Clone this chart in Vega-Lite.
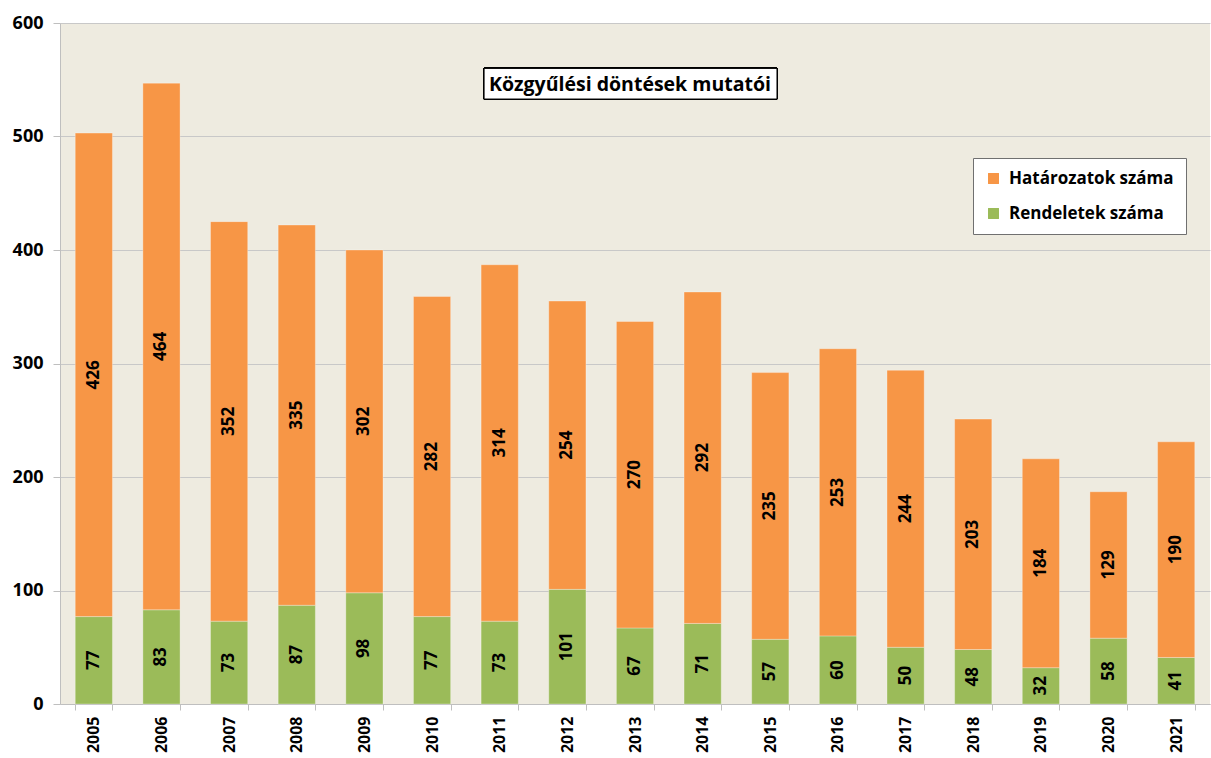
{
  "$schema": "https://vega.github.io/schema/vega-lite/v6.json",
  "width": 1150,
  "height": 681,
  "autosize": {"type": "none"},
  "padding": {"left": 60, "top": 23, "right": 1, "bottom": 54},
  "background": "white",
  "title": {
    "text": "Közgyűlési döntések mutatói",
    "anchor": "middle",
    "orient": "top",
    "offset": -81,
    "dx": -5,
    "font": "Open Sans",
    "fontSize": 19.5,
    "fontWeight": "bold",
    "color": "black"
  },
  "data": {
    "values": [
      {"ev": "2005", "sorozat": "Rendeletek száma", "ord": 1, "db": 77},
      {"ev": "2005", "sorozat": "Határozatok száma", "ord": 2, "db": 426},
      {"ev": "2006", "sorozat": "Rendeletek száma", "ord": 1, "db": 83},
      {"ev": "2006", "sorozat": "Határozatok száma", "ord": 2, "db": 464},
      {"ev": "2007", "sorozat": "Rendeletek száma", "ord": 1, "db": 73},
      {"ev": "2007", "sorozat": "Határozatok száma", "ord": 2, "db": 352},
      {"ev": "2008", "sorozat": "Rendeletek száma", "ord": 1, "db": 87},
      {"ev": "2008", "sorozat": "Határozatok száma", "ord": 2, "db": 335},
      {"ev": "2009", "sorozat": "Rendeletek száma", "ord": 1, "db": 98},
      {"ev": "2009", "sorozat": "Határozatok száma", "ord": 2, "db": 302},
      {"ev": "2010", "sorozat": "Rendeletek száma", "ord": 1, "db": 77},
      {"ev": "2010", "sorozat": "Határozatok száma", "ord": 2, "db": 282},
      {"ev": "2011", "sorozat": "Rendeletek száma", "ord": 1, "db": 73},
      {"ev": "2011", "sorozat": "Határozatok száma", "ord": 2, "db": 314},
      {"ev": "2012", "sorozat": "Rendeletek száma", "ord": 1, "db": 101},
      {"ev": "2012", "sorozat": "Határozatok száma", "ord": 2, "db": 254},
      {"ev": "2013", "sorozat": "Rendeletek száma", "ord": 1, "db": 67},
      {"ev": "2013", "sorozat": "Határozatok száma", "ord": 2, "db": 270},
      {"ev": "2014", "sorozat": "Rendeletek száma", "ord": 1, "db": 71},
      {"ev": "2014", "sorozat": "Határozatok száma", "ord": 2, "db": 292},
      {"ev": "2015", "sorozat": "Rendeletek száma", "ord": 1, "db": 57},
      {"ev": "2015", "sorozat": "Határozatok száma", "ord": 2, "db": 235},
      {"ev": "2016", "sorozat": "Rendeletek száma", "ord": 1, "db": 60},
      {"ev": "2016", "sorozat": "Határozatok száma", "ord": 2, "db": 253},
      {"ev": "2017", "sorozat": "Rendeletek száma", "ord": 1, "db": 50},
      {"ev": "2017", "sorozat": "Határozatok száma", "ord": 2, "db": 244},
      {"ev": "2018", "sorozat": "Rendeletek száma", "ord": 1, "db": 48},
      {"ev": "2018", "sorozat": "Határozatok száma", "ord": 2, "db": 203},
      {"ev": "2019", "sorozat": "Rendeletek száma", "ord": 1, "db": 32},
      {"ev": "2019", "sorozat": "Határozatok száma", "ord": 2, "db": 184},
      {"ev": "2020", "sorozat": "Rendeletek száma", "ord": 1, "db": 58},
      {"ev": "2020", "sorozat": "Határozatok száma", "ord": 2, "db": 129},
      {"ev": "2021", "sorozat": "Rendeletek száma", "ord": 1, "db": 41},
      {"ev": "2021", "sorozat": "Határozatok száma", "ord": 2, "db": 190}
    ]
  },
  "transform": [
    {"stack": "db", "groupby": ["ev"], "sort": [{"field": "ord", "order": "ascending"}], "as": ["y0", "y1"]},
    {"calculate": "(datum.y0 + datum.y1) / 2", "as": "ymid"}
  ],
  "encoding": {
    "x": {
      "field": "ev",
      "type": "nominal",
      "sort": null,
      "scale": {"paddingInner": 0.45, "paddingOuter": 0.225},
      "axis": {
        "title": null,
        "labelAngle": 270,
        "labelAlign": "right",
        "labelBaseline": "middle",
        "labelFont": "Open Sans",
        "labelFontSize": 16,
        "labelFontWeight": "bold",
        "labelColor": "black",
        "labelPadding": 6,
        "tickBand": "extent",
        "tickSize": 6,
        "tickColor": "#bfbfbf",
        "domainColor": "#bfbfbf",
        "grid": false
      }
    }
  },
  "layer": [
    {
      "mark": {"type": "bar", "stroke": "white", "strokeWidth": 0.5, "strokeOpacity": 0.6},
      "encoding": {
        "y": {
          "field": "y0",
          "type": "quantitative",
          "scale": {"domain": [0, 600], "nice": false},
          "axis": {
            "title": null,
            "values": [0, 100, 200, 300, 400, 500, 600],
            "labelFont": "Open Sans",
            "labelFontSize": 18,
            "labelFontWeight": "bold",
            "labelColor": "black",
            "labelPadding": 10,
            "tickSize": 7,
            "tickColor": "#bfbfbf",
            "domainColor": "#bfbfbf",
            "gridColor": "#c8c8c8",
            "gridWidth": 1
          }
        },
        "y2": {"field": "y1"},
        "color": {
          "field": "sorozat",
          "type": "nominal",
          "scale": {"domain": ["Határozatok száma", "Rendeletek száma"], "range": ["#F79646", "#9BBB59"]},
          "legend": {
            "title": null,
            "orient": "none",
            "legendX": 913,
            "legendY": 135,
            "fillColor": "white",
            "strokeColor": "#707070",
            "padding": 12,
            "symbolType": "square",
            "symbolSize": 120,
            "symbolStrokeWidth": 0,
            "labelFont": "Open Sans",
            "labelFontSize": 17,
            "labelFontWeight": "bold",
            "labelColor": "black",
            "labelLimit": 300,
            "rowPadding": 17,
            "labelOffset": 7
          }
        }
      }
    },
    {
      "mark": {"type": "text", "angle": 270, "font": "Open Sans", "fontSize": 17, "fontWeight": "bold", "color": "black", "align": "center", "baseline": "middle"},
      "encoding": {
        "y": {"field": "ymid", "type": "quantitative"},
        "text": {"field": "db", "type": "quantitative"}
      }
    },
    {
      "mark": {"type": "rect", "fill": "white", "stroke": "black", "strokeWidth": 1},
      "encoding": {
        "x": {"datum": "2011", "bandPosition": 0.08},
        "x2": {"datum": "2015", "bandPosition": 0.68},
        "y": {"datum": 560},
        "y2": {"datum": 533}
      }
    }
  ],
  "config": {
    "view": {"fill": "#EEEBE0", "stroke": null},
    "axis": {"gridColor": "#c8c8c8"}
  }
}
